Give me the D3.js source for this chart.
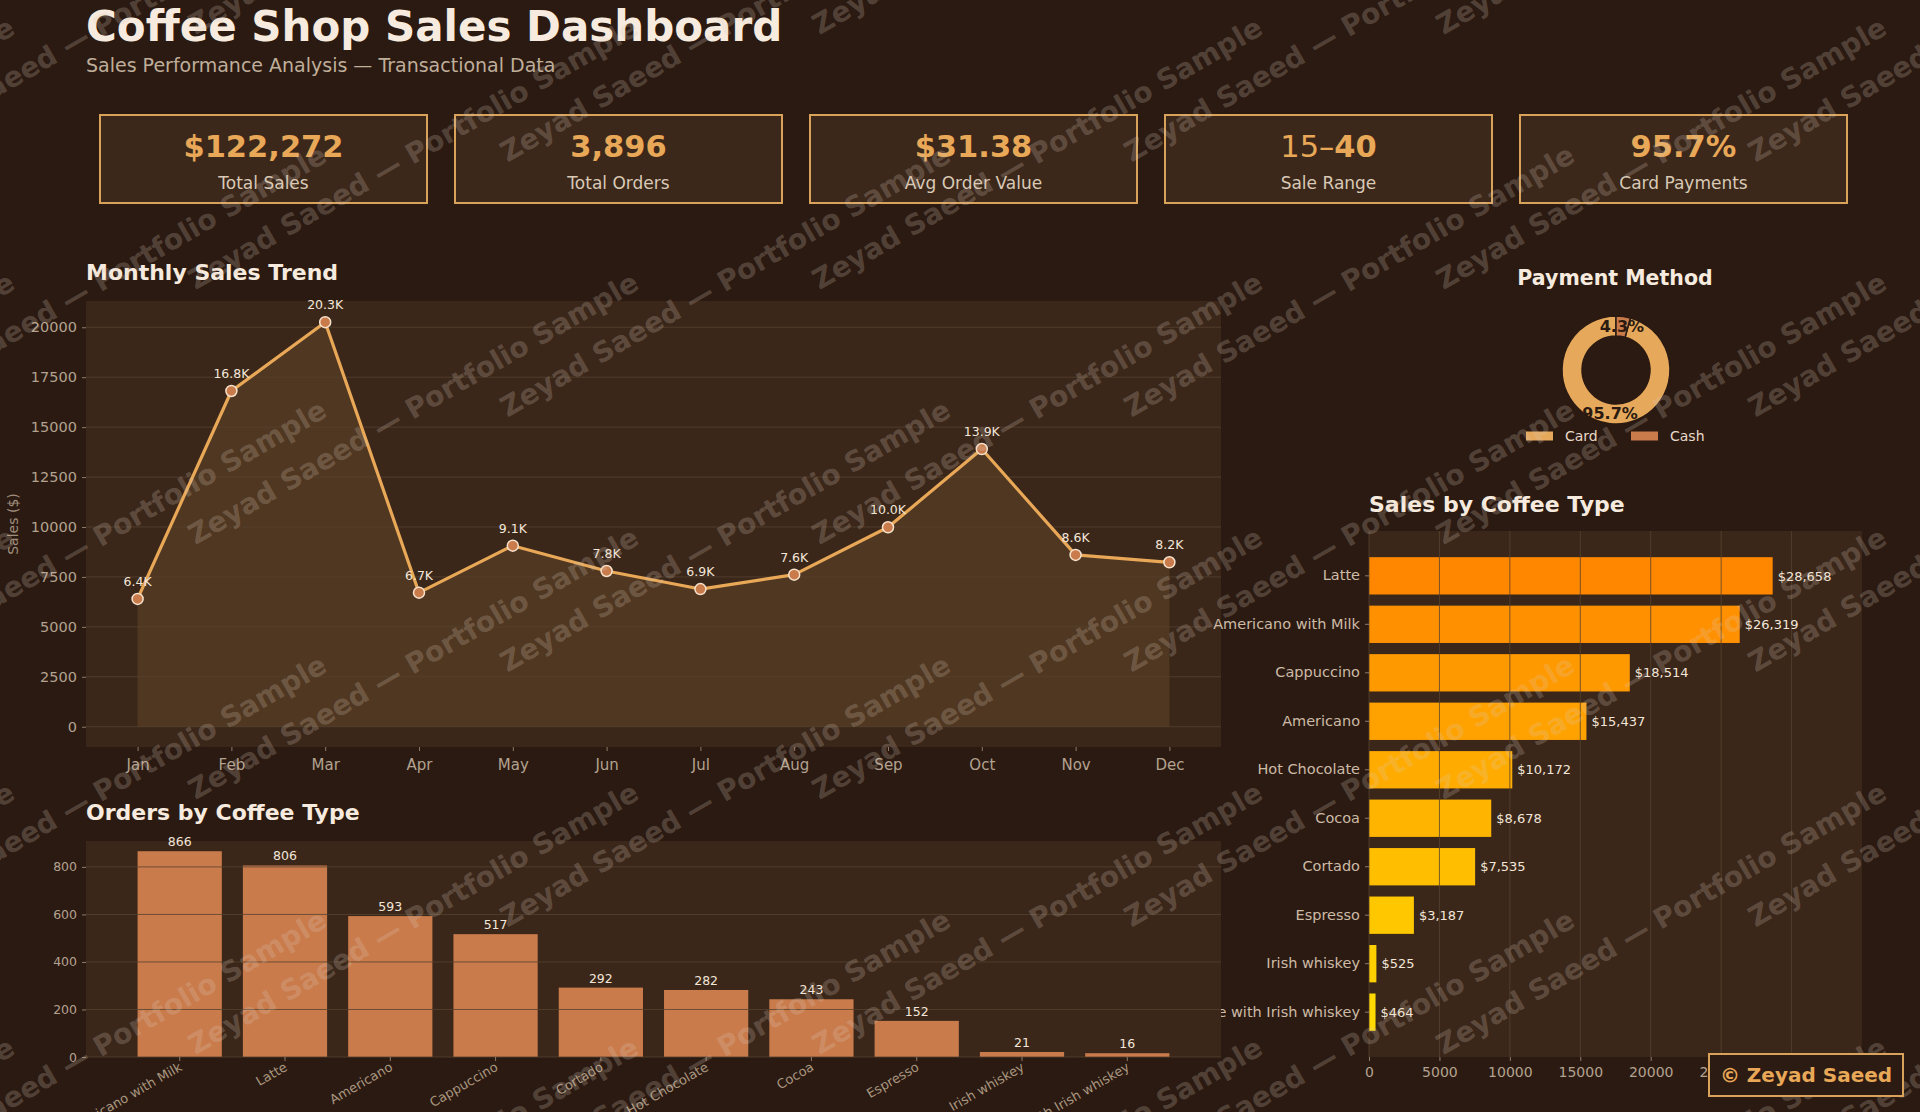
<!DOCTYPE html>
<html>
<head>
<meta charset="utf-8">
<script src="https://cdn.jsdelivr.net/npm/d3@7"></script>
<style>
  html, body { margin: 0; padding: 0; background: #2b1a12; }
  svg { display: block; font-family: 'DejaVu Sans', sans-serif; }
</style>
</head>
<body>
<div id="dash"></div>
<script>
// values
const kpiLabels = ['Total Sales', 'Total Orders', 'Avg Order Value', 'Sale Range', 'Card Payments'];
const kpiValues = [['', '$122,272'], ['', '3,896'], ['', '$31.38'], ['15–', '40'], ['', '95.7%']];

const months = ['Jan', 'Feb', 'Mar', 'Apr', 'May', 'Jun', 'Jul', 'Aug', 'Sep', 'Oct', 'Nov', 'Dec'];
const monthlySales = [6398, 16810, 20255, 6712, 9065, 7797, 6893, 7615, 9986, 13904, 8604, 8233];

const paymentLabels = ['Card', 'Cash'];
const paymentShares = [95.7, 4.3];

const salesTypes = ['Latte', 'Americano with Milk', 'Cappuccino', 'Americano', 'Hot Chocolate',
  'Cocoa', 'Cortado', 'Espresso', 'Irish whiskey', 'Latte with Irish whiskey'];
const salesByType = [28658, 26319, 18514, 15437, 10172, 8678, 7535, 3187, 525, 464];

const orderTypes = ['Americano with Milk', 'Latte', 'Americano', 'Cappuccino', 'Cortado',
  'Hot Chocolate', 'Cocoa', 'Espresso', 'Irish whiskey', 'Latte with Irish whiskey'];
const ordersByType = [866, 806, 593, 517, 292, 282, 243, 152, 21, 16];

const W = 1920;
const H = 1112;
const BG = '#2b1a12';
const PANEL = '#3a271a';
const GOLD = '#e8a857';
const COPPER = '#c97b4b';
const TICK = '#b3a28f';
const LIGHT = '#f3e6d8';

const svg = d3.select('#dash').append('svg')
  .attr('width', W)
  .attr('height', H);

svg.append('rect').attr('width', W).attr('height', H).attr('fill', BG);

// header
svg.append('text')
  .attr('x', 86).attr('y', 41)
  .attr('fill', '#f7ebdf')
  .attr('font-size', 42).attr('font-weight', 'bold')
  .text('Coffee Shop Sales Dashboard');

svg.append('text')
  .attr('x', 86).attr('y', 72)
  .attr('fill', '#bfae99')
  .attr('font-size', 19)
  .text('Sales Performance Analysis — Transactional Data');

// kpi cards
const kpi = svg.selectAll('.kpi')
  .data(kpiLabels)
  .enter()
  .append('g')
  .attr('class', 'kpi')
  .attr('transform', (d, i) => `translate(${100 + i * 355},115)`);

kpi.append('rect')
  .attr('width', 327).attr('height', 88)
  .attr('fill', '#3b281b')
  .attr('stroke', '#d9a25a').attr('stroke-width', 2);

const kv = kpi.append('text')
  .attr('x', 163.5).attr('y', 42)
  .attr('text-anchor', 'middle')
  .attr('fill', GOLD)
  .attr('font-size', 30.5);
kv.append('tspan').text((d, i) => kpiValues[i][0]);
kv.append('tspan').attr('font-weight', 'bold').text((d, i) => kpiValues[i][1]);

kpi.append('text')
  .attr('x', 163.5).attr('y', 74)
  .attr('text-anchor', 'middle')
  .attr('fill', '#d9c9b5')
  .attr('font-size', 17)
  .text(d => d);

const styleAxis = (g, size) => {
  g.select('.domain').remove();
  g.selectAll('.tick line').attr('stroke', '#8d7b69');
  g.selectAll('.tick text').attr('fill', TICK).attr('font-size', size)
    .attr('font-family', 'DejaVu Sans');
};

const gridStyle = sel => sel.attr('stroke', '#56422f').attr('stroke-opacity', 0.8).attr('stroke-width', 1);

// monthly sales trend
const lc = svg.append('g');
lc.append('text')
  .attr('x', 86).attr('y', 280)
  .attr('fill', '#f7ebdf').attr('font-size', 22).attr('font-weight', 'bold')
  .text('Monthly Sales Trend');

const lx = d3.scaleLinear().domain([-0.55, 11.55]).range([86, 1221]);
const ly = d3.scaleLinear().domain([-1015, 21315]).range([747, 301]);

lc.append('rect')
  .attr('x', 86).attr('y', 301)
  .attr('width', 1221 - 86).attr('height', 747 - 301)
  .attr('fill', PANEL);

lc.append('path')
  .datum(monthlySales)
  .attr('fill', GOLD).attr('fill-opacity', 0.13)
  .attr('d', d3.area().x((d, i) => lx(i)).y0(ly(0)).y1(d => ly(d)));

lc.selectAll('.hgrid')
  .data(d3.range(0, 20001, 2500))
  .enter()
  .append('line')
  .attr('x1', 86).attr('x2', 1221)
  .attr('y1', d => ly(d)).attr('y2', d => ly(d))
  .call(gridStyle);

lc.append('g')
  .attr('transform', 'translate(86,0)')
  .call(d3.axisLeft(ly).tickValues(d3.range(0, 20001, 2500)).tickFormat(d3.format('d')).tickSize(4).tickPadding(5))
  .call(g => styleAxis(g, 14.5));

lc.append('g')
  .attr('transform', 'translate(0,747)')
  .call(d3.axisBottom(lx).tickValues(d3.range(12)).tickFormat(i => months[i]).tickSize(4).tickPadding(8))
  .call(g => styleAxis(g, 15));

lc.append('text')
  .attr('transform', 'translate(18,524) rotate(-90)')
  .attr('text-anchor', 'middle')
  .attr('fill', '#9f8e7c').attr('font-size', 14)
  .text('Sales ($)');

lc.append('path')
  .datum(monthlySales)
  .attr('fill', 'none')
  .attr('stroke', GOLD).attr('stroke-width', 3.2)
  .attr('stroke-linejoin', 'round')
  .attr('d', d3.line().x((d, i) => lx(i)).y(d => ly(d)));

lc.selectAll('.pt')
  .data(monthlySales)
  .enter()
  .append('circle')
  .attr('cx', (d, i) => lx(i)).attr('cy', d => ly(d))
  .attr('r', 5.5)
  .attr('fill', COPPER)
  .attr('stroke', '#f6e2cc').attr('stroke-width', 1.5);

lc.selectAll('.ptlabel')
  .data(monthlySales)
  .enter()
  .append('text')
  .attr('x', (d, i) => lx(i)).attr('y', d => ly(d) - 13)
  .attr('text-anchor', 'middle')
  .attr('fill', LIGHT).attr('font-size', 12.5)
  .text(d => `${(d / 1000).toFixed(1)}K`);

// payment method donut
const pm = svg.append('g');
pm.append('text')
  .attr('x', 1615).attr('y', 285)
  .attr('text-anchor', 'middle')
  .attr('fill', '#f7ebdf').attr('font-size', 20.5).attr('font-weight', 'bold')
  .text('Payment Method');

const payColor = d3.scaleOrdinal().domain(paymentLabels).range(['#e6a85b', COPPER]);
const pie = d3.pie().sort(null)
  .startAngle(2 * Math.PI * paymentShares[1] / 100)
  .endAngle(2 * Math.PI * (1 + paymentShares[1] / 100));
const slices = pie(paymentShares);
const ring = d3.arc().innerRadius(34).outerRadius(54);
const mid = d3.arc().innerRadius(44).outerRadius(44);

const donut = pm.append('g').attr('transform', 'translate(1616,370)');
donut.selectAll('path')
  .data(slices)
  .enter()
  .append('path')
  .attr('d', ring)
  .attr('fill', (d, i) => payColor(paymentLabels[i]))
  .attr('stroke', BG).attr('stroke-width', 1.5);

donut.selectAll('text')
  .data(slices)
  .enter()
  .append('text')
  .attr('transform', d => `translate(${mid.centroid(d)})`)
  .attr('text-anchor', 'middle').attr('dy', '0.36em')
  .attr('fill', '#2a1a10').attr('font-size', 16).attr('font-weight', 'bold')
  .text((d, i) => `${paymentShares[i]}%`);

const legend = pm.selectAll('.leg')
  .data(paymentLabels)
  .enter()
  .append('g')
  .attr('transform', (d, i) => `translate(${1526 + i * 105},436)`);
legend.append('rect')
  .attr('y', -4.5).attr('width', 27).attr('height', 9)
  .attr('fill', d => payColor(d));
legend.append('text')
  .attr('x', 39).attr('dy', '0.36em')
  .attr('fill', '#e8d9c8').attr('font-size', 14)
  .text(d => d);

// sales by coffee type
const sc = svg.append('g');
sc.append('text')
  .attr('x', 1369).attr('y', 512)
  .attr('fill', '#f7ebdf').attr('font-size', 22).attr('font-weight', 'bold')
  .text('Sales by Coffee Type');

const sx = d3.scaleLinear().domain([0, 35000]).range([1369, 1862]);
const sy = d3.scaleBand().domain(salesTypes).range([531, 1057]).paddingInner(0.23).paddingOuter(0.54);
const barColor = d3.scaleLinear().domain([0, salesTypes.length - 1]).range(['#ff8700', '#ffd900'])
  .interpolate(d3.interpolateRgb);

sc.append('rect')
  .attr('x', 1369).attr('y', 531)
  .attr('width', 1862 - 1369).attr('height', 1057 - 531)
  .attr('fill', PANEL);

sc.selectAll('.sbar')
  .data(salesByType)
  .enter()
  .append('rect')
  .attr('x', sx(0))
  .attr('y', (d, i) => sy(salesTypes[i]))
  .attr('width', d => sx(d) - sx(0))
  .attr('height', sy.bandwidth())
  .attr('fill', (d, i) => barColor(i));

sc.selectAll('.vgrid')
  .data(d3.range(0, 30001, 5000))
  .enter()
  .append('line')
  .attr('x1', d => sx(d)).attr('x2', d => sx(d))
  .attr('y1', 531).attr('y2', 1057)
  .call(gridStyle);

sc.selectAll('.slabel')
  .data(salesByType)
  .enter()
  .append('text')
  .attr('x', d => sx(d) + 5)
  .attr('y', (d, i) => sy(salesTypes[i]) + sy.bandwidth() / 2)
  .attr('dy', '0.36em')
  .attr('fill', LIGHT).attr('font-size', 13)
  .text(d => `$${d3.format(',')(d)}`);

sc.append('g')
  .attr('transform', 'translate(1369,0)')
  .call(d3.axisLeft(sy).tickSize(4).tickPadding(5))
  .call(g => styleAxis(g, 14.5))
  .call(g => g.selectAll('.tick text').attr('fill', '#cdbba6'));

sc.append('g')
  .attr('transform', 'translate(0,1057)')
  .call(d3.axisBottom(sx).tickValues(d3.range(0, 30001, 5000)).tickFormat(d3.format('d')).tickSize(4).tickPadding(6))
  .call(g => styleAxis(g, 14));

// orders by coffee type (drawn after, its panel hides the long label)
const oc = svg.append('g');
oc.append('text')
  .attr('x', 86).attr('y', 820)
  .attr('fill', '#f7ebdf').attr('font-size', 22).attr('font-weight', 'bold')
  .text('Orders by Coffee Type');

const ox = d3.scaleBand().domain(orderTypes).range([86, 1221]).paddingInner(0.2).paddingOuter(0.49);
const oy = d3.scaleLinear().domain([0, 909]).range([1057, 841]);

oc.append('rect')
  .attr('x', 86).attr('y', 841)
  .attr('width', 1221 - 86).attr('height', 1057 - 841)
  .attr('fill', PANEL);

oc.selectAll('.obar')
  .data(ordersByType)
  .enter()
  .append('rect')
  .attr('x', (d, i) => ox(orderTypes[i]))
  .attr('y', d => oy(d))
  .attr('width', ox.bandwidth())
  .attr('height', d => oy(0) - oy(d))
  .attr('fill', COPPER);

oc.selectAll('.ogrid')
  .data(d3.range(0, 801, 200))
  .enter()
  .append('line')
  .attr('x1', 86).attr('x2', 1221)
  .attr('y1', d => oy(d)).attr('y2', d => oy(d))
  .call(gridStyle);

oc.selectAll('.olabel')
  .data(ordersByType)
  .enter()
  .append('text')
  .attr('x', (d, i) => ox(orderTypes[i]) + ox.bandwidth() / 2)
  .attr('y', d => oy(d) - 5)
  .attr('text-anchor', 'middle')
  .attr('fill', LIGHT).attr('font-size', 12.5)
  .text(d => d);

oc.append('g')
  .attr('transform', 'translate(86,0)')
  .call(d3.axisLeft(oy).tickValues(d3.range(0, 801, 200)).tickSize(4).tickPadding(5))
  .call(g => styleAxis(g, 12.5));

oc.append('g')
  .attr('transform', 'translate(0,1057)')
  .call(d3.axisBottom(ox).tickSize(4).tickPadding(6))
  .call(g => styleAxis(g, 13))
  .call(g => g.selectAll('.tick text')
    .attr('fill', '#a8967f')
    .attr('text-anchor', 'end')
    .attr('dy', '0.5em')
    .attr('transform', 'translate(0,7) rotate(-30)')
    .attr('y', 0).attr('x', 0));

// watermark tiles
const tiles = [];
for (let j = -4; j <= 6; j += 1) {
  for (let i = -1; i <= 3; i += 1) {
    tiles.push({ x: (j % 2 === 0 ? 413 : 101) + i * 624, y: 408 + j * 127.5 });
  }
}
svg.append('g')
  .attr('pointer-events', 'none')
  .selectAll('text')
  .data(tiles)
  .enter()
  .append('text')
  .attr('transform', d => `translate(${d.x},${d.y}) rotate(-30)`)
  .attr('text-anchor', 'middle').attr('dy', '0.36em')
  .attr('fill', '#dccbbb').attr('fill-opacity', 0.24)
  .attr('font-size', 28).attr('font-weight', 'bold')
  .text('Zeyad Saeed — Portfolio Sample');

// signature box
const sig = svg.append('g').attr('transform', 'translate(1709,1054)');
sig.append('rect')
  .attr('width', 194).attr('height', 42)
  .attr('fill', '#2c1b12')
  .attr('stroke', '#d9a25a').attr('stroke-width', 2);
sig.append('text')
  .attr('x', 97).attr('y', 28)
  .attr('text-anchor', 'middle')
  .attr('fill', GOLD).attr('font-size', 20).attr('font-weight', 'bold')
  .text('© Zeyad Saeed');
</script>
</body>
</html>
